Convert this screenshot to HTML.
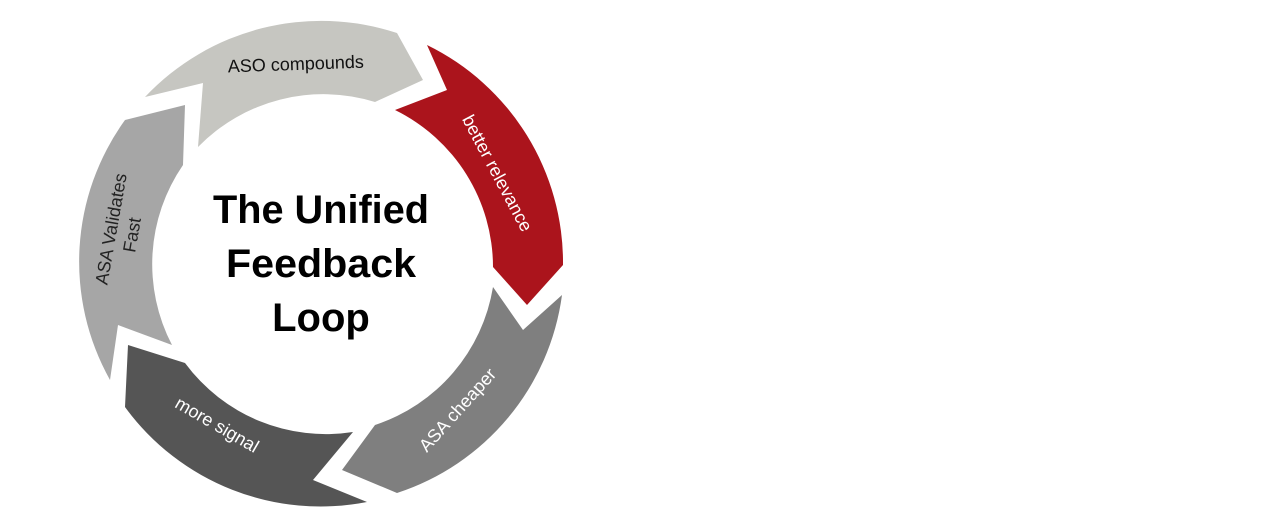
<!DOCTYPE html>
<html><head><meta charset="utf-8"><style>
html,body{margin:0;padding:0;background:#fff;width:1280px;height:520px;overflow:hidden}
svg{display:block}
text{font-family:"Liberation Sans",sans-serif}
</style></head><body>
<svg width="1280" height="520" viewBox="0 0 1280 520">
<path d="M145,97 A242,242 0 0 1 397,33 L423,80 L375,102 A175,175 0 0 0 198,147 L203,83 Z" fill="#c6c6c1"/>
<path d="M427,45 A242,242 0 0 1 563,265 L527,305 L493,267 A175,175 0 0 0 395,110 L447,90 Z" fill="#ab141c"/>
<path d="M562,295 A242,242 0 0 1 397,493 L342,470 L375,425 A175,175 0 0 0 493,287 L523,330 Z" fill="#7f7f7f"/>
<path d="M367,502 A242,242 0 0 1 125,407 L128,345 L185,363 A175,175 0 0 0 353,432 L313,480 Z" fill="#555555"/>
<path d="M110,380 A242,242 0 0 1 125,120 L185,105 L183,165 A175,175 0 0 0 172,345 L118,325 Z" fill="#a6a6a6"/>
<g font-weight="bold" font-size="40" text-anchor="middle" fill="#000">
<text x="321" y="223" textLength="216" lengthAdjust="spacingAndGlyphs">The Unified</text>
<text x="321" y="277" textLength="190" lengthAdjust="spacingAndGlyphs">Feedback</text>
<text x="321" y="331">Loop</text>
</g>
<g font-size="18">
<text x="296" y="70" text-anchor="middle" fill="#111" transform="rotate(-2 296 70)">ASO compounds</text>
<text x="0" y="0" fill="#fff" text-anchor="middle" transform="translate(492,176) rotate(62)">better relevance</text>
<text x="0" y="0" fill="#fff" text-anchor="middle" transform="translate(462,414) rotate(-48)">ASA cheaper</text>
<text x="0" y="0" fill="#fff" text-anchor="middle" transform="translate(214,430) rotate(30)">more signal</text>
<text x="0" y="0" fill="#222" text-anchor="middle" transform="translate(117,230) rotate(-80)">ASA Validates</text>
<text x="0" y="0" fill="#222" text-anchor="middle" transform="translate(138,236) rotate(-80)">Fast</text>
</g>
</svg>
</body></html>
